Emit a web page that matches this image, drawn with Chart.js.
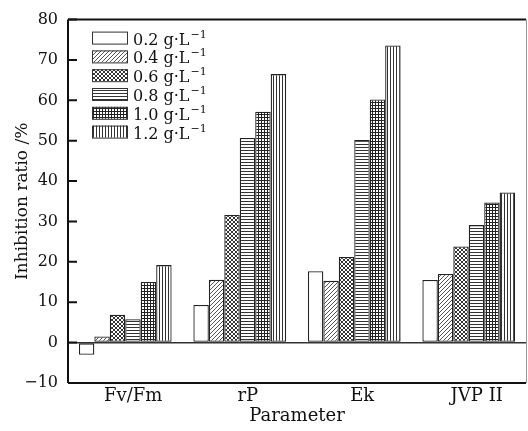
<!DOCTYPE html>
<html>
<head>
<meta charset="utf-8">
<script src="https://cdn.jsdelivr.net/npm/chart.js@4.4.1/dist/chart.umd.min.js"></script>
<style>
  html, body { margin: 0; padding: 0; background: #fff; }
  #chart { display: block; }
</style>
</head>
<body>
<canvas id="chart" width="528" height="431"></canvas>
<script>
// parameters on the x axis
const parameters = ['Fv/Fm', 'rP', 'Ek', 'JVP II'];
// concentration levels (legend), g·L-1
const concentrations = ['0.2', '0.4', '0.6', '0.8', '1.0', '1.2'];
// inhibition ratio (%) per concentration, one value per parameter
const conc02 = [-3.0, 9.3, 17.7, 15.5];
const conc04 = [1.5, 15.6, 15.3, 17.0];
const conc06 = [6.9, 31.6, 21.2, 23.8];
const conc08 = [5.8, 50.7, 50.2, 29.1];
const conc10 = [15.0, 57.2, 60.2, 34.7];
const conc12 = [19.2, 66.5, 73.6, 37.2];
const yTicks = [-10, 0, 10, 20, 30, 40, 50, 60, 70, 80];

const serif = '"DejaVu Serif", "Liberation Serif", serif';

// small tiles for the black & white fill patterns
function makePattern(kind) {
  const c = document.createElement('canvas');
  const s = kind === 'hline' || kind === 'vline' || kind === 'grid' ? 3 : 4;
  c.width = s; c.height = s;
  const g = c.getContext('2d');
  g.fillStyle = '#fff';
  g.fillRect(0, 0, s, s);
  if (kind === 'diag') {
    g.fillStyle = '#555';
    for (let i = 0; i < s; i++) g.fillRect(s - 1 - i, i, 1, 1);
  } else if (kind === 'cross') {
    g.fillStyle = '#333';
    for (let i = 0; i < s; i++) { g.fillRect(i, i, 1, 1); g.fillRect(s - 1 - i, i, 1, 1); }
  } else if (kind === 'hline') {
    g.fillStyle = '#333';
    g.fillRect(0, 0, s, 1);
  } else if (kind === 'grid') {
    g.fillStyle = '#222';
    g.fillRect(0, 0, s, 1);
    g.fillRect(0, 0, 1, s);
  } else if (kind === 'vline') {
    g.fillStyle = '#333';
    g.fillRect(0, 0, 1, s);
  }
  return g.createPattern(c, 'repeat');
}

const fills = ['#fff', makePattern('diag'), makePattern('cross'),
  makePattern('hline'), makePattern('grid'), makePattern('vline')];
const seriesData = [conc02, conc04, conc06, conc08, conc10, conc12];

const datasets = concentrations.map((c, i) => ({
  label: c + ' g·L⁻¹',
  data: seriesData[i],
  backgroundColor: fills[i],
  borderColor: '#222',
  borderWidth: 1.3,
  borderSkipped: false,
  categoryPercentage: 0.81,
  barPercentage: 1.0
}));

// frame, inward y ticks and the legend box in the upper left corner
const framePlugin = {
  id: 'framePlugin',
  afterDatasetsDraw(chart) {
    const { ctx, chartArea: a } = chart;
    const y = chart.scales.y;
    ctx.save();
    ctx.strokeStyle = '#111';
    ctx.lineWidth = 2;
    ctx.beginPath();
    ctx.moveTo(a.left, a.top); ctx.lineTo(a.right, a.top);
    ctx.moveTo(a.left, a.top); ctx.lineTo(a.left, a.bottom);
    ctx.moveTo(a.left, a.bottom); ctx.lineTo(a.right, a.bottom);
    ctx.stroke();
    ctx.lineWidth = 1;
    ctx.strokeStyle = '#999';
    ctx.beginPath();
    ctx.moveTo(a.right + 0.5, a.top); ctx.lineTo(a.right + 0.5, a.bottom);
    ctx.stroke();
    ctx.strokeStyle = '#111';
    ctx.lineWidth = 2;
    ctx.beginPath();
    yTicks.forEach(v => {
      const py = y.getPixelForValue(v);
      ctx.moveTo(a.left, py); ctx.lineTo(a.left + 9, py);
    });
    ctx.stroke();

    // legend
    const lx = a.left + 24, ly = a.top + 12;
    chart.data.datasets.forEach((ds, i) => {
      const ry = ly + i * 18.8;
      ctx.fillStyle = ds.backgroundColor;
      ctx.fillRect(lx, ry, 35, 12);
      ctx.lineWidth = 1;
      ctx.strokeStyle = '#333';
      ctx.strokeRect(lx + 0.5, ry + 0.5, 35, 12);
      ctx.fillStyle = '#111';
      ctx.textBaseline = 'alphabetic';
      ctx.textAlign = 'left';
      ctx.font = '16px ' + serif;
      const main = concentrations[i] + ' g·L';
      ctx.fillText(main, lx + 41, ry + 13);
      const w = ctx.measureText(main).width;
      ctx.font = '11px ' + serif;
      ctx.fillText('−1', lx + 42 + w, ry + 6);
    });
    ctx.restore();
  }
};

new Chart(document.getElementById('chart'), {
  type: 'bar',
  data: { labels: parameters, datasets: datasets },
  options: {
    responsive: false,
    animation: false,
    layout: { padding: { left: 0, right: 2, top: 19, bottom: 0 } },
    plugins: {
      legend: { display: false },
      tooltip: { enabled: false }
    },
    scales: {
      x: {
        grid: { display: false },
        border: { display: false },
        ticks: {
          color: '#111',
          font: { family: serif, size: 18 },
          padding: -5,
          labelOffset: 8
        },
        title: {
          display: true,
          text: 'Parameter',
          color: '#111',
          font: { family: serif, size: 18 },
          padding: { top: 0, bottom: 4 }
        },
        afterFit(s) { s.height = 48; }
      },
      y: {
        min: -10,
        max: 80,
        afterBuildTicks(s) { s.ticks = yTicks.map(v => ({ value: v })); },
        grid: {
          drawTicks: false,
          color: c => (c.tick && c.tick.value === 0 ? '#333' : 'rgba(0,0,0,0)'),
          lineWidth: 1.5
        },
        border: { display: false },
        ticks: {
          color: '#111',
          font: { family: serif, size: 16 },
          padding: 10,
          callback: v => (v < 0 ? '−' + Math.abs(v) : v)
        },
        title: {
          display: true,
          text: 'Inhibition ratio /%',
          color: '#111',
          font: { family: serif, size: 17 },
          padding: { top: 12, bottom: 0 }
        },
        afterFit(s) { s.width = 68; }
      }
    }
  },
  plugins: [framePlugin]
});
</script>
</body>
</html>
